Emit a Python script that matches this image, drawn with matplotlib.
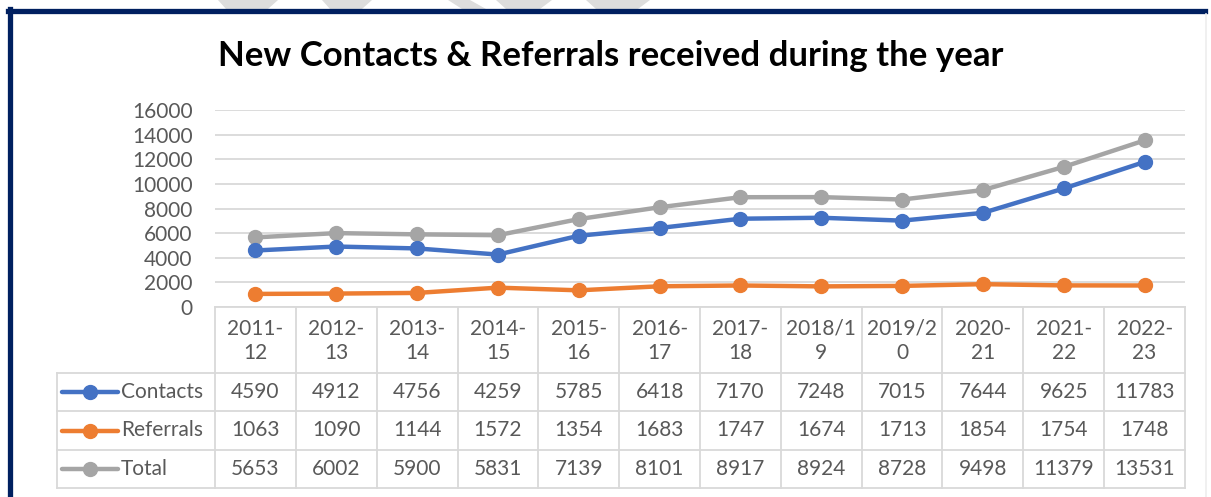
import matplotlib.pyplot as plt
from matplotlib.lines import Line2D
from matplotlib.patches import Polygon

plt.rcParams['font.family'] = ['Lato', 'DejaVu Sans']

# datos de la tabla
years = ["2011-\n12", "2012-\n13", "2013-\n14", "2014-\n15", "2015-\n16", "2016-\n17",
         "2017-\n18", "2018/1\n9", "2019/2\n0", "2020-\n21", "2021-\n22", "2022-\n23"]
contacts = [4590, 4912, 4756, 4259, 5785, 6418, 7170, 7248, 7015, 7644, 9625, 11783]
referrals = [1063, 1090, 1144, 1572, 1354, 1683, 1747, 1674, 1713, 1854, 1754, 1748]
total = [5653, 6002, 5900, 5831, 7139, 8101, 8917, 8924, 8728, 9498, 11379, 13531]

series = [("Contacts", contacts, "#4472C4"),
          ("Referrals", referrals, "#ED7D31"),
          ("Total", total, "#A5A5A5")]

W, H = 1211, 497
fig = plt.figure(figsize=(W / 100, H / 100), dpi=100)


def box(x0, y0, x1, y1):
    # caja en pixeles (origen arriba a la izquierda) -> coords de figura
    return [x0 / W, 1 - y1 / H, (x1 - x0) / W, (y1 - y0) / H]


def fx(px):
    return px / W


def fy(py):
    return 1 - py / H


# marca de agua gris arriba
for xs in [(218, 278, 268, 226), (322, 372, 362, 330), (448, 470, 486, 462),
           (496, 552, 540, 506), (586, 650, 638, 596)]:
    fig.add_artist(Polygon([(fx(xs[0]), fy(0)), (fx(xs[1]), fy(0)),
                            (fx(xs[2]), fy(9)), (fx(xs[3]), fy(9))],
                           closed=True, color="#DDDDDD", lw=0))

# borde
fig.add_artist(Line2D([fx(8), fx(1205)], [fy(11), fy(11)], color="#002060", lw=3.8))
fig.add_artist(Line2D([fx(10), fx(10)], [fy(9), fy(497)], color="#002060", lw=3.8))
fig.add_artist(Line2D([fx(1206), fx(1206)], [fy(14), fy(497)], color="#EDEDED", lw=1.2))

fig.text(fx(611), fy(56), "New Contacts & Referrals received during the year",
         ha="center", va="center", fontsize=25, fontweight="bold", color="black")

# ---- grafica ----
ax = fig.add_axes(box(215, 110, 1185, 307))
n = len(years)
xpos = list(range(n))
for name, vals, col in series[::-1]:
    ax.plot(xpos, vals, color=col, lw=3.2, marker="o", markersize=10, clip_on=False,
            solid_capstyle="round", zorder=3)

ax.set_xlim(-0.5, n - 0.5)
ax.set_ylim(0, 16000)
ax.set_yticks(range(0, 16001, 2000))
ax.tick_params(axis="y", length=0, pad=16, labelsize=15, labelcolor="#595959")
ax.set_xticks([])
ax.grid(axis="y", color="#D9D9D9", lw=1.3)
for s in ["top", "right", "left"]:
    ax.spines[s].set_visible(False)
ax.spines["bottom"].set_color("#D9D9D9")
ax.spines["bottom"].set_linewidth(1.3)

# ---- tabla de datos ----
tb = fig.add_axes(box(215, 307, 1185, 488))
tb.set_xlim(-0.5, n - 0.5)
tb.set_ylim(181, 0)
tb.axis("off")

colw = 970 / n


def dx(px):
    return -0.5 + (px - 215) / colw


left = dx(57)
rows = [0, 66, 104, 143, 181]
gc = "#D9D9D9"
lw = 1.3

# cabecera
for i in range(n + 1):
    tb.plot([i - 0.5, i - 0.5], [0, rows[1]], color=gc, lw=lw, clip_on=False)
for y in rows[1:]:
    tb.plot([left, n - 0.5], [y, y], color=gc, lw=lw, clip_on=False)
for i in range(n + 1):
    tb.plot([i - 0.5, i - 0.5], [rows[1], rows[-1]], color=gc, lw=lw, clip_on=False)
tb.plot([left, left], [rows[1], rows[-1]], color=gc, lw=lw, clip_on=False)

for i, lab in enumerate(years):
    tb.text(i, rows[1] / 2 + 1, lab, ha="center", va="center", fontsize=15,
            color="#595959", linespacing=1.3)

for r, (name, vals, col) in enumerate(series):
    yc = (rows[r + 1] + rows[r + 2]) / 2
    tb.plot([dx(62), dx(118)], [yc, yc], color=col, lw=3.2, clip_on=False,
            solid_capstyle="round")
    tb.plot([dx(90)], [yc], color=col, marker="o", markersize=10, clip_on=False)
    tb.text(dx(121), yc, name, ha="left", va="center", fontsize=15, color="#595959")
    for i, v in enumerate(vals):
        tb.text(i, yc, str(v), ha="center", va="center", fontsize=15, color="#595959")

fig.savefig("out.png", dpi=100)
